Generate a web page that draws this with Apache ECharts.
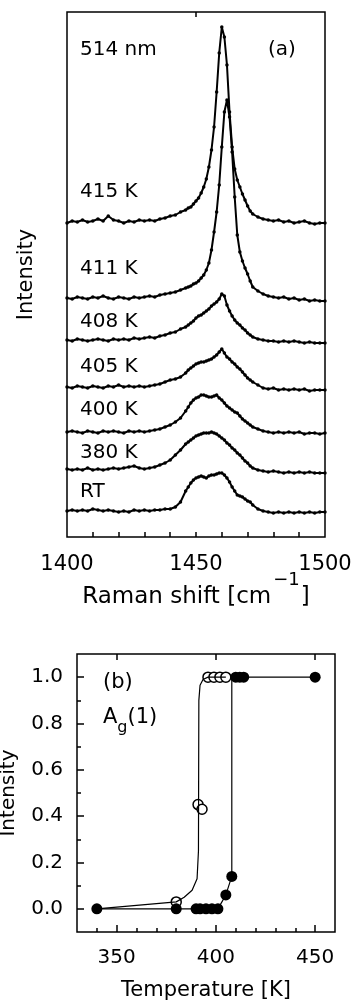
<!DOCTYPE html>
<html>
<head>
<meta charset="utf-8">
<script src="https://cdn.jsdelivr.net/npm/echarts@6/dist/echarts.min.js"></script>
<style>
  html, body { margin: 0; padding: 0; background: #fff; }
  #chart { width: 359px; height: 1002px; }
</style>
</head>
<body>
<div id="chart"></div>
<script>
// panel (a): Raman shift grid [cm-1], shared by every spectrum
const shift = [
  1400, 1402, 1404, 1406, 1408, 1410, 1412, 1414, 1416, 1418, 1420, 1422,
  1424, 1426, 1428, 1430, 1432, 1434, 1436, 1438, 1440, 1442, 1444, 1446,
  1447, 1448, 1449, 1450, 1451, 1452, 1453, 1454, 1455, 1456, 1457, 1458,
  1459, 1460, 1461, 1462, 1463, 1464, 1465, 1466, 1467, 1468, 1469, 1470,
  1471, 1472, 1474, 1476, 1478, 1480, 1482, 1484, 1486, 1488, 1490, 1492,
  1494, 1496, 1498, 1500
];

// stacked spectra (arb. units, already offset as in the figure)
const specRT = [
  26, 27, 26, 27, 26, 28, 27, 26, 27, 26, 25, 26,
  25, 27, 26, 27, 26, 27, 27, 28, 28, 30, 35, 46,
  50, 54, 57, 59, 60, 61, 60, 59, 61, 62, 62, 63,
  64, 64, 62, 59, 55, 50, 46, 42, 41, 40, 38, 36,
  35, 32, 28, 26, 25, 24, 25, 24, 25, 24, 25, 24,
  25, 24, 25, 25
];
const spec380 = [
  68, 67, 68, 67, 69, 67, 68, 67, 68, 69, 68, 69,
  70, 71, 69, 68, 69, 70, 72, 74, 77, 82, 87, 93,
  95, 97, 99, 101, 102, 103, 104, 104, 104, 105, 104, 103,
  101, 99, 97, 94, 92, 89, 87, 84, 82, 79, 76, 74,
  71, 69, 67, 66, 65, 66, 65, 64, 65, 64, 65, 64,
  65, 64, 64, 64
];
const spec400 = [
  105, 106, 105, 104, 106, 105, 104, 106, 105, 106, 105, 104,
  106, 105, 106, 105, 106, 107, 108, 110, 112, 115, 119, 126,
  130, 134, 137, 139, 140, 142, 142, 141, 140, 140, 141, 142,
  139, 137, 134, 131, 129, 127, 125, 124, 121, 118, 116, 114,
  112, 110, 108, 106, 105, 104, 105, 104, 105, 104, 105, 103,
  104, 104, 103, 104
];
const spec405 = [
  150, 149, 151, 150, 149, 151, 150, 149, 151, 150, 152, 150,
  151, 150, 151, 150, 151, 152, 153, 155, 157, 158, 160, 164,
  167, 169, 171, 173, 174, 175, 175, 176, 177, 178, 180, 182,
  185, 188, 184, 180, 178, 175, 173, 170, 168, 165, 162, 159,
  157, 155, 152, 149, 148, 149, 147, 148, 147, 148, 147, 148,
  146, 147, 147, 147
];
const spec408 = [
  197, 196, 198, 197, 196, 197, 198, 197, 196, 198, 197, 198,
  197, 199, 198, 199, 200, 199, 201, 202, 204, 205, 208, 210,
  212, 214, 216, 219, 221, 222, 224, 226, 228, 231, 233, 235,
  238, 243, 241, 232, 226, 221, 217, 214, 212, 209, 207, 204,
  202, 200, 198, 197, 196, 196, 195, 196, 195, 196, 195, 194,
  195, 194, 194, 194
];
const spec411 = [
  239, 238, 240, 239, 238, 240, 239, 241, 239, 238, 240, 239,
  238, 240, 239, 240, 241, 240, 242, 243, 244, 245, 247, 249,
  250, 251, 253, 254, 256, 259, 262, 267, 274, 287, 305, 325,
  352, 390, 425, 437, 420, 385, 340, 302, 285, 276, 269, 263,
  256, 250, 246, 243, 241, 240, 239, 240, 238, 239, 237, 238,
  236, 237, 236, 236
];
const spec415 = [
  314, 316, 315, 317, 315, 316, 318, 316, 321, 317, 316, 314,
  316, 315, 317, 316, 317, 316, 318, 319, 321, 322, 325, 327,
  329, 330, 333, 336, 339, 344, 350, 358, 370, 387, 410, 445,
  484, 510, 500, 472, 425, 390, 368, 357, 350, 343, 337, 331,
  326, 323, 320, 318, 317, 316, 317, 315, 316, 314, 315, 316,
  314, 313, 314, 314
];
const spectra = [specRT, spec380, spec400, spec405, spec408, spec411, spec415];
const specNames = ['RT', '380 K', '400 K', '405 K', '408 K', '411 K', '415 K'];

// panel (b): A_g(1) intensity vs temperature
const tempOpen = [380, 391, 393, 396, 399, 402, 405];
const intOpen = [0.03, 0.45, 0.43, 1.0, 1.0, 1.0, 1.0];
const tempFilled = [340, 380, 390, 392, 395, 398, 401, 405, 408, 410, 412, 414, 450];
const intFilled = [0, 0, 0, 0, 0, 0, 0, 0.06, 0.14, 1.0, 1.0, 1.0, 1.0];
// guide curves through the points
const fitOpenT = [340, 380, 384, 388, 390.5, 391.2, 391.3, 391.4, 392, 393.5, 396, 405];
const fitOpenI = [0, 0.03, 0.05, 0.08, 0.13, 0.25, 0.6, 0.9, 0.965, 0.99, 1.0, 1.0];
const fitFilledT = [340, 380, 401, 405, 408, 408, 410, 450];
const fitFilledI = [0, 0, 0, 0.06, 0.14, 1.0, 1.0, 1.0];

const ticksRaman = [1410, 1420, 1430, 1440, 1450, 1460, 1470, 1480, 1490];
const labelsRaman = [1400, 1450, 1500];
const tempMajor = [350, 400, 450];
const tempMinor = [340, 360, 370, 380, 390, 410, 420, 430, 440];
const intMajor = [0, 0.2, 0.4, 0.6, 0.8, 1.0];
const intMinor = [0.1, 0.3, 0.5, 0.7, 0.9];

const FONT = 'DejaVu Sans';
const pair = (xs, ys) => xs.map((x, i) => [x, ys[i]]);

const chart = echarts.init(document.getElementById('chart'), null, { renderer: 'canvas' });

const noLine = { show: false, onZero: false };
const hiddenLabel = { show: false };
const tick = (len, values) => ({
  show: true, inside: true, length: len, customValues: values,
  lineStyle: { color: '#000', width: 1.5 }
});
const txt = (x, y, text, size) => ({
  type: 'text', x, y,
  style: { text, font: size + 'px "DejaVu Sans"', fill: '#000', verticalAlign: 'middle' }
});

chart.setOption({
  animation: false,
  backgroundColor: '#fff',
  grid: [
    {
      left: 67, top: 12, width: 258, height: 525, show: true, borderColor: '#000', borderWidth: 1.5,
      containLabel: false, outerBoundsMode: 'none'
    },
    {
      left: 77, top: 654, width: 258, height: 278, show: true, borderColor: '#000', borderWidth: 1.5,
      containLabel: false, outerBoundsMode: 'none'
    }
  ],
  xAxis: [
    {
      gridIndex: 0, type: 'value', min: 1400, max: 1500, position: 'bottom',
      axisLine: noLine, splitLine: { show: false },
      axisTick: tick(5, ticksRaman),
      axisLabel: {
        customValues: labelsRaman, margin: 17, color: '#000', fontSize: 21, fontFamily: FONT,
        formatter: v => String(v)
      },
      name: 'Raman shift [cm{sup|\u22121}]', nameLocation: 'middle', nameGap: 34, nameMoveOverlap: false,
      nameTextStyle: {
        color: '#000', fontSize: 23, fontFamily: FONT,
        rich: { sup: { fontSize: 18, fontFamily: FONT, color: '#000', padding: [0, 1, 34, 2] } }
      }
    },
    {
      gridIndex: 0, type: 'value', min: 1400, max: 1500, position: 'top',
      axisLine: noLine, splitLine: { show: false }, axisLabel: hiddenLabel,
      axisTick: tick(5, [1450])
    },
    {
      gridIndex: 1, type: 'value', min: 330, max: 460, position: 'bottom',
      axisLine: noLine, splitLine: { show: false },
      axisTick: tick(7, tempMajor),
      axisLabel: { customValues: tempMajor, margin: 16, color: '#000', fontSize: 20, fontFamily: FONT },
      name: 'Temperature [K]', nameLocation: 'middle', nameGap: 48, nameMoveOverlap: false,
      nameTextStyle: { color: '#000', fontSize: 21, fontFamily: FONT }
    },
    {
      gridIndex: 1, type: 'value', min: 330, max: 460, position: 'bottom',
      axisLine: noLine, splitLine: { show: false }, axisLabel: hiddenLabel,
      axisTick: tick(4, tempMinor)
    },
    {
      gridIndex: 1, type: 'value', min: 330, max: 460, position: 'top',
      axisLine: noLine, splitLine: { show: false }, axisLabel: hiddenLabel,
      axisTick: tick(6, tempMajor)
    }
  ],
  yAxis: [
    {
      gridIndex: 0, type: 'value', min: 0, max: 525, position: 'left',
      axisLine: noLine, axisTick: { show: false }, axisLabel: hiddenLabel, splitLine: { show: false },
      name: 'Intensity', nameLocation: 'middle', nameGap: 30, nameMoveOverlap: false,
      nameTextStyle: { color: '#000', fontSize: 21, fontFamily: FONT }
    },
    {
      gridIndex: 1, type: 'value', min: -0.1, max: 1.1, position: 'left',
      axisLine: noLine, splitLine: { show: false },
      axisTick: tick(7, intMajor),
      axisLabel: {
        customValues: intMajor, margin: 14, color: '#000', fontSize: 20, fontFamily: FONT,
        formatter: v => v.toFixed(1)
      },
      name: 'Intensity', nameLocation: 'middle', nameGap: 58, nameMoveOverlap: false,
      nameTextStyle: { color: '#000', fontSize: 20, fontFamily: FONT }
    },
    {
      gridIndex: 1, type: 'value', min: -0.1, max: 1.1, position: 'left',
      axisLine: noLine, splitLine: { show: false }, axisLabel: hiddenLabel,
      axisTick: tick(4, intMinor)
    }
  ],
  graphic: [
    txt(80, 50, '514 nm', 20),
    txt(268, 50, '(a)', 20),
    txt(80, 192, '415 K', 20),
    txt(80, 269, '411 K', 20),
    txt(80, 322, '408 K', 20),
    txt(80, 367, '405 K', 20),
    txt(80, 410, '400 K', 20),
    txt(80, 453, '380 K', 20),
    txt(80, 492, 'RT', 20),
    txt(103, 683, '(b)', 21),
    {
      type: 'text', x: 103, y: 718,
      style: {
        text: 'A{sub|g}(1)', font: '21px "DejaVu Sans"', fill: '#000', verticalAlign: 'middle',
        rich: { sub: { fontSize: 16, fontFamily: FONT, fill: '#000', padding: [20, 0, 0, 0] } }
      }
    }
  ],
  series: [
    ...spectra.map((s, k) => ({
      name: specNames[k], type: 'line', xAxisIndex: 0, yAxisIndex: 0,
      data: pair(shift, s),
      symbol: 'circle', symbolSize: 3.5, showSymbol: true,
      lineStyle: { color: '#000', width: 2 },
      itemStyle: { color: '#000' },
      silent: true
    })),
    {
      type: 'line', xAxisIndex: 2, yAxisIndex: 1, data: pair(fitOpenT, fitOpenI),
      symbol: 'none', lineStyle: { color: '#000', width: 1.2 }, silent: true
    },
    {
      type: 'line', xAxisIndex: 2, yAxisIndex: 1, data: pair(fitFilledT, fitFilledI),
      symbol: 'none', lineStyle: { color: '#000', width: 1.2 }, silent: true
    },
    {
      type: 'scatter', xAxisIndex: 2, yAxisIndex: 1, data: pair(tempOpen, intOpen),
      symbol: 'circle', symbolSize: 10,
      itemStyle: { color: '#fff', borderColor: '#000', borderWidth: 1.5, opacity: 1 }
    },
    {
      type: 'scatter', xAxisIndex: 2, yAxisIndex: 1, data: pair(tempFilled, intFilled),
      symbol: 'circle', symbolSize: 11,
      itemStyle: { color: '#000', opacity: 1 }
    }
  ]
});

window.onresize = () => chart.resize();
</script>
</body>
</html>
